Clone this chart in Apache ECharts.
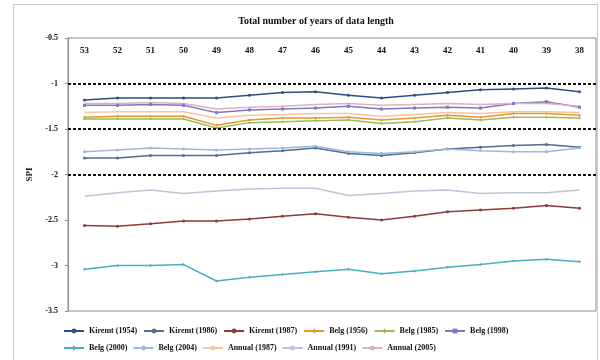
<!DOCTYPE html>
<html><head><meta charset="utf-8">
<script src="https://cdn.jsdelivr.net/npm/echarts@6/dist/echarts.min.js"></script>
<style>html,body{margin:0;padding:0;background:#fff}#c{width:600px;height:360px}</style>
</head><body><div id="c"></div>
<script>
const categories = ['53','52','51','50','49','48','47','46','45','44','43','42','41','40','39','38'];
const yTicks = [-3.5,-3,-2.5,-2,-1.5,-1,-0.5];
const thresholds = [-1,-1.5,-2];
const seriesNames = ['Kiremt (1954)','Kiremt (1986)','Kiremt (1987)','Belg (1956)','Belg (1985)','Belg (1998)','Belg (2000)','Belg (2004)','Annual (1987)','Annual (1991)','Annual (2005)'];
const kiremt1954 = [-1.18,-1.16,-1.16,-1.16,-1.16,-1.13,-1.10,-1.09,-1.13,-1.16,-1.13,-1.10,-1.07,-1.06,-1.05,-1.09];
const kiremt1986 = [-1.82,-1.82,-1.79,-1.79,-1.79,-1.76,-1.74,-1.71,-1.77,-1.79,-1.76,-1.72,-1.70,-1.68,-1.67,-1.70];
const kiremt1987 = [-2.56,-2.57,-2.54,-2.51,-2.51,-2.49,-2.46,-2.43,-2.47,-2.50,-2.46,-2.41,-2.39,-2.37,-2.34,-2.37];
const belg1956 = [-1.37,-1.36,-1.36,-1.36,-1.46,-1.40,-1.38,-1.38,-1.37,-1.40,-1.38,-1.35,-1.37,-1.33,-1.33,-1.35];
const belg1985 = [-1.39,-1.39,-1.39,-1.39,-1.49,-1.43,-1.42,-1.41,-1.40,-1.44,-1.42,-1.38,-1.40,-1.37,-1.37,-1.38];
const belg1998 = [-1.24,-1.24,-1.23,-1.24,-1.32,-1.29,-1.28,-1.27,-1.25,-1.28,-1.27,-1.26,-1.27,-1.22,-1.20,-1.26];
const belg2000 = [-3.04,-3.00,-3.00,-2.99,-3.17,-3.13,-3.10,-3.07,-3.04,-3.09,-3.06,-3.02,-2.99,-2.95,-2.93,-2.96];
const belg2004 = [-1.75,-1.73,-1.71,-1.72,-1.73,-1.72,-1.71,-1.69,-1.75,-1.77,-1.75,-1.72,-1.74,-1.75,-1.75,-1.71];
const annual1987 = [-1.32,-1.31,-1.31,-1.31,-1.38,-1.35,-1.34,-1.33,-1.33,-1.36,-1.34,-1.32,-1.33,-1.31,-1.31,-1.32];
const annual1991 = [-2.24,-2.20,-2.17,-2.21,-2.18,-2.16,-2.15,-2.15,-2.23,-2.21,-2.18,-2.17,-2.21,-2.20,-2.20,-2.17];
const annual2005 = [-1.22,-1.22,-1.21,-1.22,-1.28,-1.26,-1.25,-1.23,-1.22,-1.24,-1.23,-1.22,-1.23,-1.22,-1.22,-1.25];

const dataList = [kiremt1954,kiremt1986,kiremt1987,belg1956,belg1985,belg1998,belg2000,belg2004,annual1987,annual1991,annual2005];
const colors = ['#2E4E80','#4F6D8C','#8E3A3A','#E8962E','#9BBB59','#7C78C4','#4BACC6','#9DB8DA','#F7C6A0','#BFC3D6','#E2AFC0'];
const symbols = ['circle','circle','circle','diamond','diamond','rect','diamond','circle','none','none','none'];
const FONT = '"Liberation Serif", "Times New Roman", serif';

const series = dataList.map((d,i)=>({
  name: seriesNames[i], type:'line', data:d,
  symbol: symbols[i], symbolSize: symbols[i]==='none'?0:3, showSymbol: symbols[i]!=='none',
  lineStyle:{color:colors[i], width:1.5}, itemStyle:{color:colors[i]},
  animation:false, z: 3
}));
series.push({
  name:'thresholds', type:'line', data:[], silent:true,
  markLine:{symbol:['none','none'], silent:true, label:{show:false},
    lineStyle:{color:'#111', type:[3,2], width:2},
    data: thresholds.map(v=>({yAxis:v}))},
  animation:false
});

const chart = echarts.init(document.getElementById('c'), null, {renderer:'canvas'});
const legendText = {fontFamily:FONT, fontSize:8, fontWeight:'bold', color:'#111'};
chart.setOption({
  animation:false,
  title:{text:'Total number of years of data length', left:311, textAlign:'center', top:11,
    textStyle:{fontFamily:FONT, fontSize:10, fontWeight:'bold', color:'#111'}},
  graphic:[{type:'rect', shape:{x:13.5,y:4.5,width:584,height:360}, style:{fill:'none', stroke:'#c8c8c8', lineWidth:1}, silent:true}],
  grid:{left:68, right:4, top:38, bottom:49, show:true, borderColor:'#8c8c8c', borderWidth:1},
  legend:[
    {data:seriesNames.slice(0,6), left:58, top:322, itemWidth:20, itemHeight:6, itemGap:6, textStyle:legendText},
    {data:seriesNames.slice(6), left:58, top:339, itemWidth:20, itemHeight:6, itemGap:5, textStyle:legendText}
  ],
  xAxis:{type:'category', data:categories, position:'top', boundaryGap:true,
    axisLine:{show:false}, axisTick:{show:false},
    axisLabel:{inside:true, margin:8, fontFamily:FONT, fontSize:9, fontWeight:'bold', color:'#111'}},
  yAxis:{type:'value', min:-3.5, max:-0.5, interval:0.5,
    name:'SPI', nameLocation:'middle', nameGap:27, nameRotate:90,
    nameTextStyle:{fontFamily:FONT, fontSize:9, fontWeight:'bold', color:'#111'},
    axisLine:{show:true, lineStyle:{color:'#8c8c8c'}}, axisTick:{show:true, length:3, lineStyle:{color:'#8c8c8c'}},
    splitLine:{show:false},
    axisLabel:{margin:10, fontFamily:FONT, fontSize:8, fontWeight:'bold', color:'#111',
      formatter:v=>String(v)}},
  series: series
});
</script></body></html>
